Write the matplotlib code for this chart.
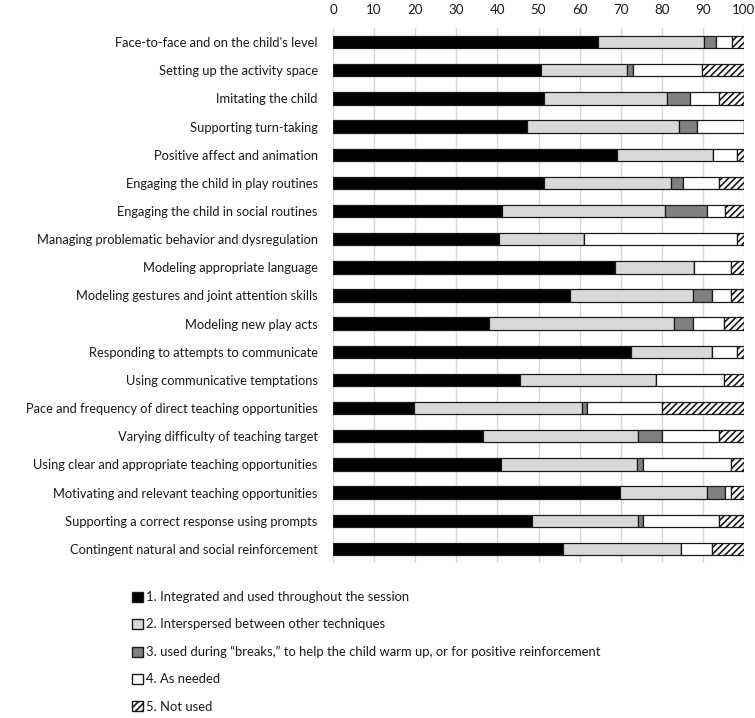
import matplotlib

matplotlib.use("Agg")
import matplotlib.pyplot as plt
import numpy as np
from matplotlib.patches import Patch

plt.rcParams["font.family"] = ["Lato", "DejaVu Sans"]
plt.rcParams["hatch.linewidth"] = 1.2

techniques = [
    "Face-to-face and on the child's level",
    "Setting up the activity space",
    "Imitating the child",
    "Supporting turn-taking",
    "Positive affect and animation",
    "Engaging the child in play routines",
    "Engaging the child in social routines",
    "Managing problematic behavior and dysregulation",
    "Modeling appropriate language",
    "Modeling gestures and joint attention skills",
    "Modeling new play acts",
    "Responding to attempts to communicate",
    "Using communicative temptations",
    "Pace and frequency of direct teaching opportunities",
    "Varying difficulty of teaching target",
    "Using clear and appropriate teaching opportunities",
    "Motivating and relevant teaching opportunities",
    "Supporting a correct response using prompts",
    "Contingent natural and social reinforcement",
]

integrated = [64.4, 50.7, 51.4, 47.2, 69.2, 51.4, 41.2, 40.3, 68.6, 57.6,
              37.9, 72.6, 45.5, 19.6, 36.4, 40.8, 69.8, 48.5, 56.0]
interspersed = [25.9, 20.9, 29.8, 37.0, 23.3, 30.9, 39.6, 20.7, 19.3, 30.1,
                45.1, 19.7, 33.1, 40.9, 37.7, 33.2, 21.1, 25.6, 28.7]
breaks = [2.8, 1.5, 5.7, 4.3, 0.0, 2.9, 10.3, 0.0, 0.0, 4.6,
          4.7, 0.0, 0.0, 1.4, 6.0, 1.5, 4.5, 1.4, 0.0]
as_needed = [4.0, 16.8, 7.1, 11.5, 5.9, 8.7, 4.3, 37.4, 8.9, 4.5,
             7.5, 5.9, 16.6, 18.2, 13.7, 21.3, 1.4, 18.3, 7.6]
not_used = [2.9, 10.1, 6.0, 0.0, 1.6, 6.1, 4.6, 1.6, 3.2, 3.2,
            4.8, 1.8, 4.8, 19.9, 6.2, 3.2, 3.2, 6.2, 7.7]

legend_labels = [
    "1. Integrated and used throughout the session",
    "2. Interspersed between other techniques",
    "3. used during \u201cbreaks,\u201d to help the child warm up, or for positive reinforcement",
    "4. As needed",
    "5. Not used",
]

series = [integrated, interspersed, breaks, as_needed, not_used]
colors = ["#000000", "#d9d9d9", "#808080", "#ffffff", "#ffffff"]
hatches = [None, None, None, None, "/////"]

fig = plt.figure(figsize=(7.55, 7.18), dpi=100)
ax = fig.add_axes([333 / 755, 1 - 563 / 718, 411 / 755, 535 / 718])

y = np.arange(len(techniques))
left = np.zeros(len(techniques))
handles = []
for vals, col, hat, lab in zip(series, colors, hatches, legend_labels):
    vals = np.array(vals)
    ax.barh(y, vals, left=left, height=0.44, color=col, edgecolor="#1a1a1a",
            linewidth=0.9, hatch=hat, zorder=3)
    left += vals
    handles.append(Patch(facecolor=col, edgecolor="#1a1a1a", hatch=hat, label=lab))

ax.set_xlim(0, 100)
ax.set_ylim(len(techniques) - 0.5, -0.5)
ax.set_xticks(np.arange(0, 101, 10))
ax.xaxis.tick_top()
ax.tick_params(axis="x", length=0, pad=9, labelsize=9.6, colors="#1a1a1a")
ax.set_yticks(y)
ax.set_yticklabels(techniques)
ax.tick_params(axis="y", length=0, pad=11, labelsize=9.3, colors="#1a1a1a")
ax.grid(axis="x", color="#d9d9d9", linewidth=1, zorder=0)
for s in ax.spines.values():
    s.set_visible(False)

fig.legend(handles=handles, loc="upper left", bbox_to_anchor=(127 / 755, 1 - 586 / 718),
           frameon=False, fontsize=9.4, handlelength=0.8, handleheight=0.8,
           handletextpad=0.25, labelspacing=1.17, borderaxespad=0, labelcolor="#1a1a1a")

fig.savefig("out.png", dpi=100)
